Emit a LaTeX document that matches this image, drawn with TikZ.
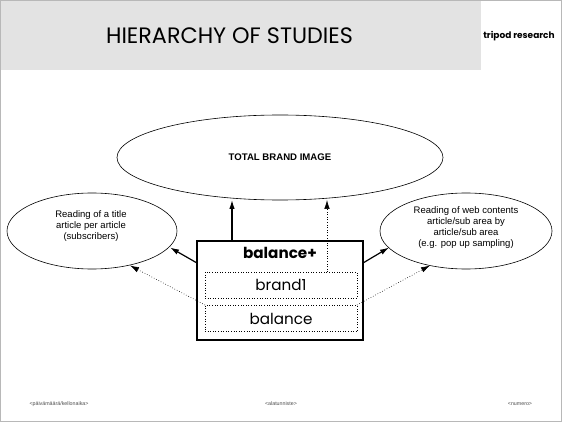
\documentclass[tikz,border=0pt]{standalone}
\usepackage{fontspec}
\setmainfont{Liberation Sans}
\newfontfamily\gothic{Poppins}
\usetikzlibrary{arrows.meta}
\begin{document}
\begin{tikzpicture}[x=1pt,y=-1pt,
  arr/.style={-{Latex[length=9pt,width=5.5pt]},line width=1.2pt},
  darr/.style={-{Latex[length=9pt,width=5.5pt]},line width=0.6pt,dotted},
  etext/.style={font=\fontsize{9.5}{11}\selectfont,align=center},
  inbox/.style={draw,dotted,line width=0.6pt,minimum width=152pt,minimum height=26pt,inner sep=0pt,font=\gothic\fontsize{15.2}{16}\selectfont},
  foot/.style={font=\fontsize{5.3}{6}\selectfont,text=black!70}]
\useasboundingbox (0,0) rectangle (562,422);
\fill[black!11] (0,0) rectangle (481,70);
\draw[black!28,line width=1.2pt] (0.6,0.6) rectangle (561.4,421.4);
\node[font=\gothic\fontsize{22.3}{24}\selectfont,inner sep=0pt] (title) at (229.5,36) {HIERARCHY OF STUDIES};
\node[font=\gothic\fontsize{9}{10}\selectfont\bfseries,inner sep=0pt] (brand) at (519,36) {tripod research};
% ellipses
\draw[line width=0.6pt] (280,157.5) ellipse [x radius=163, y radius=42.5];
\node[font=\bfseries\fontsize{9.6}{11}\selectfont] (top) at (280,157.5) {TOTAL BRAND IMAGE};
\draw[line width=0.6pt] (92,231) ellipse [x radius=85, y radius=38];
\node[etext] (left) at (91,226) {Reading of a title\\article per article\\(subscribers)};
\draw[line width=0.6pt] (466,231) ellipse [x radius=86, y radius=38];
\node[etext] (right) at (466,228) {Reading of web contents\\article/sub area by\\article/sub area\\(e.g. pop up sampling)};
% main box
\draw[line width=1.8pt] (197,241) rectangle (363,340);
\node[font=\gothic\bfseries\fontsize{15.2}{16}\selectfont,inner sep=0pt] (bal) at (280,253) {balance+};
\node[inbox] (b1) at (281,285) {brand1};
\node[inbox] (b2) at (281,318.5) {balance};
\coordinate (tA) at (232,241);
\coordinate (hA) at (232,200);
\coordinate (tB) at (327,272);
\coordinate (hB) at (327,200);
\coordinate (tL) at (197,263);
\coordinate (hL) at (170,247.5);
\coordinate (tR) at (363,263);
\coordinate (hR) at (389,247.5);
\coordinate (dL) at (205,305);
\coordinate (dLh) at (130,265.5);
\coordinate (dR) at (357,305);
\coordinate (dRh) at (430,265.5);
\draw[arr] (tA) -- (hA);
\draw[darr] (tB) -- (hB);
\draw[arr] (tL) -- (hL);
\draw[arr] (tR) -- (hR);
\draw[darr] (dL) -- (dLh);
\draw[darr] (dR) -- (dRh);
% footer
\node[foot] (f1) at (59,404) {<päivämäärä/kellonaika>};
\node[foot] (f2) at (281,404) {<alatunniste>};
\node[foot] (f3) at (520,404) {<numero>};
\end{tikzpicture}
\end{document}
